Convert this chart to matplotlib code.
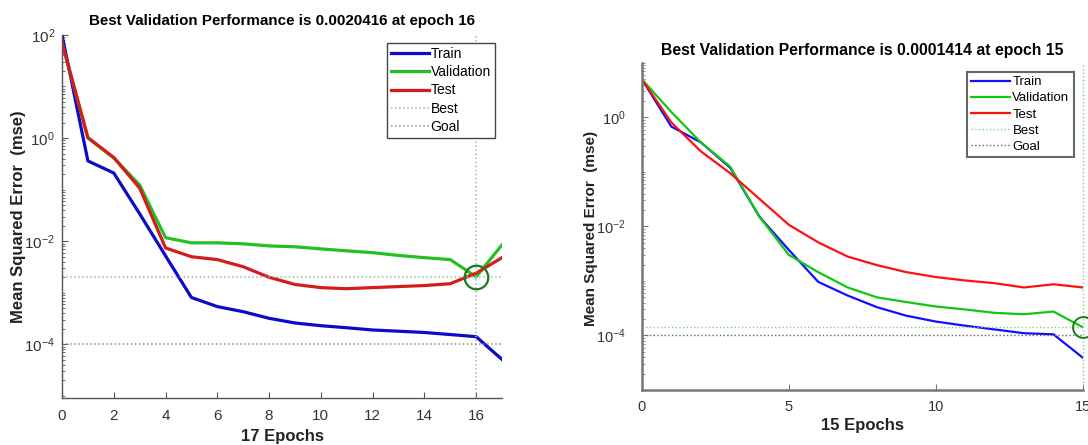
import numpy as np
import matplotlib
matplotlib.use("Agg")
import matplotlib.pyplot as plt
from matplotlib.ticker import FixedLocator, LogLocator, LogFormatterMathtext, NullFormatter

plt.rcParams["font.family"] = ["Liberation Sans", "DejaVu Sans"]
plt.rcParams["mathtext.fontset"] = "custom"
plt.rcParams["mathtext.rm"] = "Liberation Sans"
plt.rcParams["mathtext.it"] = "Liberation Sans"

# ---- left run: 17 epochs, best validation at epoch 16 ----
epochs_a = list(range(18))
train_a = [100, 0.36, 0.21, 0.034, 0.0052, 0.00081, 0.00054, 0.00043, 0.00032,
           0.00026, 0.00023, 0.00021, 0.00019, 0.00018, 0.00017, 0.000155, 0.000141, 0.000051]
valid_a = [69, 1.0, 0.41, 0.123, 0.0117, 0.0093, 0.0093, 0.0089, 0.0081,
           0.0078, 0.0071, 0.0065, 0.0060, 0.0053, 0.0048, 0.0044, 0.0020416, 0.0085]
test_a = [72, 1.02, 0.42, 0.107, 0.0074, 0.0050, 0.0044, 0.0032, 0.0020,
          0.00145, 0.00126, 0.0012, 0.00126, 0.00132, 0.00138, 0.0015, 0.0024, 0.0048]
best_a = (16, 0.0020416)
goal_a = 1e-4

# ---- right run: 15 epochs, best validation at epoch 15 ----
epochs_b = list(range(16))
train_b = [5.0, 0.68, 0.35, 0.12, 0.015, 0.0037, 0.00096, 0.00054, 0.00033,
           0.00023, 0.00018, 0.000151, 0.000129, 0.00011, 0.000105, 0.000039]
valid_b = [5.0, 1.26, 0.35, 0.126, 0.015, 0.0030, 0.00145, 0.00076, 0.0005,
           0.00041, 0.00034, 0.0003, 0.00026, 0.000245, 0.000275, 0.0001414]
test_b = [5.0, 0.81, 0.24, 0.095, 0.032, 0.0107, 0.0051, 0.0028, 0.00195,
          0.00145, 0.00118, 0.00102, 0.00091, 0.00076, 0.00087, 0.00076]
best_b = (15, 0.0001414)
goal_b = 1e-4


def style_log_axis(ax, major, ylim, spine_color, spine_w, ypad, xpad, lsize):
    ax.set_yscale("log")
    ax.set_ylim(*ylim)
    ax.yaxis.set_major_locator(FixedLocator(major))
    ax.yaxis.set_major_formatter(LogFormatterMathtext())
    ax.yaxis.set_minor_locator(LogLocator(base=10, subs=np.arange(1, 10), numticks=50))
    ax.yaxis.set_minor_formatter(NullFormatter())
    for s in ("top", "right"):
        ax.spines[s].set_visible(False)
    for s in ("left", "bottom"):
        ax.spines[s].set_color(spine_color)
        ax.spines[s].set_linewidth(spine_w)
    ax.tick_params(which="both", direction="in", colors=spine_color, labelcolor="#333333")
    ax.tick_params(axis="y", which="major", length=4, pad=ypad, labelsize=lsize)
    ax.tick_params(axis="y", which="minor", length=2)
    ax.tick_params(axis="x", length=4, pad=xpad, labelsize=lsize)


fig = plt.figure(figsize=(10.88, 4.45), dpi=100)

# left panel
ax1 = fig.add_axes([0.057, 0.1056, 0.4044, 0.816])
lw = 2.3
ax1.plot(epochs_a, train_a, color="#0a0ac8", lw=lw, label="Train")
ax1.plot(epochs_a, valid_a, color="#22c022", lw=lw, label="Validation")
ax1.plot(epochs_a, test_a, color="#d41c1c", lw=lw, label="Test")
ax1.axhline(best_a[1], color="#9ab89a", ls=":", lw=1.1, label="Best")
ax1.axvline(best_a[0], color="#9ab89a", ls=":", lw=1.1, clip_on=False)
ax1.axhline(goal_a, color="#8a8a8a", ls=":", lw=1.1, label="Goal")
ax1.plot([best_a[0]], [best_a[1]], "o", ms=17, mfc="none", mec="#1c7a1c", mew=1.6, clip_on=False)
ax1.set_xlim(0, 17)
ax1.set_xticks(range(0, 17, 2))
style_log_axis(ax1, [1e-4, 1e-2, 1, 1e2], (10 ** -5.04, 1e2), "#555555", 1.0, 5, 8, 11)
ax1.set_title("Best Validation Performance is 0.0020416 at epoch 16",
              fontsize=10.9, fontweight="bold", pad=7)
ax1.set_xlabel("17 Epochs", fontsize=12, fontweight="bold", color="#222222")
ax1.xaxis.set_label_coords(0.5, -0.085)
ax1.set_ylabel("Mean Squared Error  (mse)", fontsize=12, fontweight="bold", color="#222222")
ax1.yaxis.set_label_coords(-0.082, 0.5)
leg1 = ax1.legend(loc="upper left", bbox_to_anchor=(0.739, 0.978), borderaxespad=0,
                  fontsize=10, handlelength=2.7, handletextpad=0.12, labelspacing=0.3,
                  fancybox=False, framealpha=1, edgecolor="#444444", borderpad=0.3)
leg1.get_frame().set_linewidth(1.0)

# right panel
ax2 = fig.add_axes([0.590, 0.1236, 0.4053, 0.735])
lw = 1.6
ax2.plot(epochs_b, train_b, color="#1010ff", lw=lw, label="Train")
ax2.plot(epochs_b, valid_b, color="#10c810", lw=lw, label="Validation")
ax2.plot(epochs_b, test_b, color="#ff1010", lw=lw, label="Test")
ax2.axhline(best_b[1], color="#7fd07f", ls=":", lw=1.0, label="Best")
ax2.axvline(best_b[0], color="#7fd07f", ls=":", lw=1.0, clip_on=False)
ax2.axhline(goal_b, color="#666666", ls=":", lw=1.0, label="Goal")
ax2.plot([best_b[0]], [best_b[1]], "o", ms=15, mfc="none", mec="#1c7a1c", mew=1.4, clip_on=False)
ax2.set_xlim(0, 15)
ax2.set_xticks([0, 5, 10, 15])
style_log_axis(ax2, [1e-4, 1e-2, 1], (1e-5, 10), "#777777", 1.8, 12, 7, 10.5)
ax2.set_title("Best Validation Performance is 0.0001414 at epoch 15",
              fontsize=11.3, fontweight="bold", pad=6)
ax2.set_xlabel("15 Epochs", fontsize=12, fontweight="bold", color="#222222")
ax2.xaxis.set_label_coords(0.5, -0.086)
ax2.set_ylabel("Mean Squared Error  (mse)", fontsize=11, fontweight="bold", color="#222222")
ax2.yaxis.set_label_coords(-0.1, 0.495)
leg2 = ax2.legend(loc="upper left", bbox_to_anchor=(0.737, 0.972), borderaxespad=0,
                  fontsize=9.5, handlelength=3.0, handletextpad=0.15, labelspacing=0.3,
                  fancybox=False, framealpha=1, edgecolor="#666666", borderpad=0.3)
leg2.get_frame().set_linewidth(1.5)

fig.savefig("out.png", dpi=100)
